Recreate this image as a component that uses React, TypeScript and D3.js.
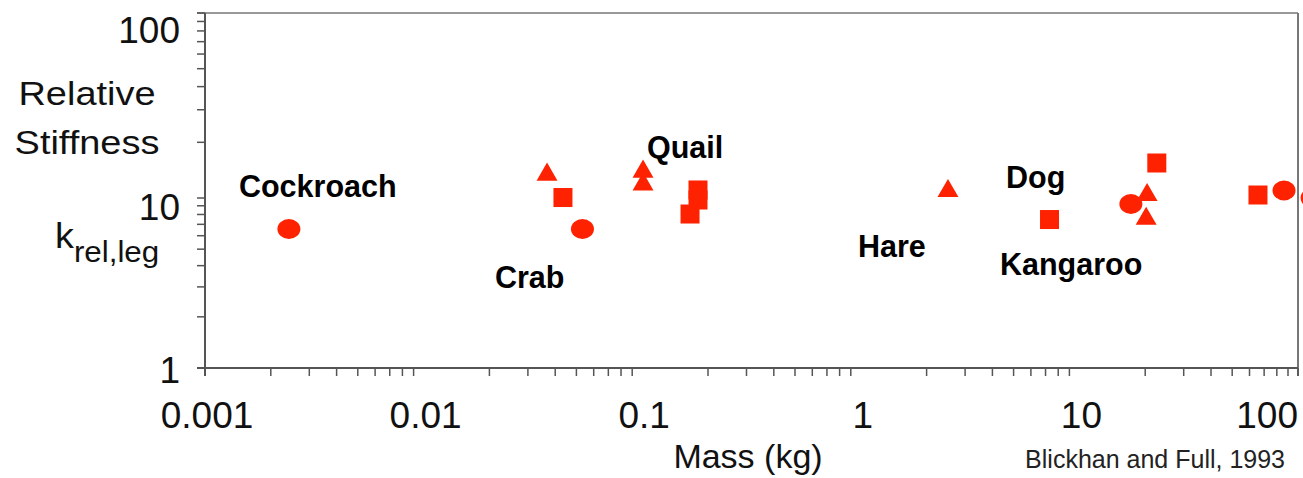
import React from "react";
import * as d3 from "d3";

// ---- data ----
const xTickValues = [0.001, 0.01, 0.1, 1, 10, 100];
const xTickLabels = ["0.001", "0.01", "0.1", "1", "10", "100"];
const yTickValues = [1, 10, 100];
const yTickLabels = ["1", "10", "100"];

const circleMass = [0.00242, 0.0533, 17.2, 86.3, 116];
const circleStiff = [6.57, 6.57, 9.22, 10.98, 10.0];
const squareMass = [0.0434, 0.18, 0.18, 0.1655, 7.3, 22.6, 65.6];
const squareStiff = [10.06, 11.05, 9.73, 8.05, 7.47, 15.46, 10.38];
const triangleMass = [0.0367, 0.1009, 0.1009, 2.505, 20.4, 20.2];
const triangleStiff = [13.37, 13.87, 11.85, 10.91, 10.38, 7.55];

const animalNames = ["Cockroach", "Crab", "Quail", "Hare", "Dog", "Kangaroo"];
const animalLabelMass = [0.00143, 0.0212, 0.1052, 0.971, 4.62, 4.33];
const animalLabelStiff = [10.12, 2.955, 16.45, 4.5, 11.33, 3.52];

const xTitle = "Mass (kg)";
const yTitleLines = ["Relative", "Stiffness"];
const citation = "Blickhan and Full, 1993";

const W = 1303;
const H = 478;
const FONT = "'Liberation Sans', Arial, sans-serif";
const RED = "#ff2200";
const AXIS = "#555";

export default function App() {
  const x = d3.scaleLog().domain([0.001, 100]).range([205, 1298]);
  const y = d3.scaleLog().domain([1, 10, 100]).range([368, 198, 13]);
  const [x0, x1] = x.range();
  const y0 = y(1);
  const yTop = y(100);

  const xMinor = x.ticks().filter(
    (v) => ![0.01, 0.1, 1, 10].some((p) => Math.abs(v - p) / p < 1e-6)
  );
  const yMinor = d3.scaleLog().domain([1, 100]).ticks();

  const tri = d3.symbol(d3.symbolTriangle, 190)();
  const sq = 19;

  const yLabelBase = d3.scaleLinear().domain([13, 368]).range([43, 383]);

  return (
    <svg
      width={W}
      height={H}
      style={{ position: "absolute", left: 0, top: 0, background: "#fff" }}
      fontFamily={FONT}
    >
      <rect x={0} y={0} width={W} height={H} fill="#fff" />
      {/* frame */}
      <line x1={x0 - 8} x2={x1} y1={yTop} y2={yTop} stroke="#999" strokeWidth={2} />
      <line x1={x1} x2={x1} y1={yTop} y2={y0 + 8} stroke="#777" strokeWidth={2} />
      <line x1={x0} x2={x0} y1={yTop} y2={y0 + 8} stroke={AXIS} strokeWidth={2} />
      <line x1={x0 - 8} x2={x1} y1={y0} y2={y0} stroke={AXIS} strokeWidth={2} />
      {/* x minor ticks */}
      {xMinor.map((v, i) => (
        <line key={"xt" + i} x1={x(v)} x2={x(v)} y1={y0} y2={y0 + 8} stroke={AXIS} strokeWidth={1.5} />
      ))}
      {/* y ticks */}
      {yMinor.map((v, i) => (
        <line key={"yt" + i} x1={x0 - 8} x2={x0} y1={y(v)} y2={y(v)} stroke={AXIS} strokeWidth={1.5} />
      ))}
      {/* x tick labels */}
      {xTickValues.map((v, i) => {
        const last = i === xTickValues.length - 1;
        return (
          <text
            key={"xl" + i}
            x={last ? x(v) : x(v) + 2}
            y={428}
            fontSize={37}
            textAnchor={last ? "end" : "middle"}
            fill="#111"
          >
            {xTickLabels[i]}
          </text>
        );
      })}
      {/* y tick labels */}
      {yTickValues.map((v, i) => (
        <text key={"yl" + i} x={180} y={yLabelBase(y(v))} fontSize={37} textAnchor="end" fill="#111">
          {yTickLabels[i]}
        </text>
      ))}
      {/* y title */}
      {yTitleLines.map((s, i) => (
        <g key={"yti" + i} transform={`translate(87,${105 + i * 49}) scale(1.15,1)`}>
          <text x={0} y={0} fontSize={33} textAnchor="middle" fill="#111">
            {s}
          </text>
        </g>
      ))}
      <g transform="translate(55,248) scale(1.08,1)">
        <text x={0} y={0} fontSize={35} fill="#111">
          k
          <tspan dy={14} fontSize={29}>
            rel,leg
          </tspan>
        </text>
      </g>
      {/* x title */}
      <text x={748} y={468} fontSize={34} textAnchor="middle" fill="#111">
        {xTitle}
      </text>
      <text x={1285} y={468} fontSize={25} textAnchor="end" fill="#222">
        {citation}
      </text>
      {/* animal labels */}
      {animalNames.map((n, i) => (
        <text
          key={"an" + i}
          x={x(animalLabelMass[i])}
          y={y(animalLabelStiff[i])}
          fontSize={30.5}
          fontWeight="bold"
          fill="#000"
        >
          {n}
        </text>
      ))}
      {/* markers */}
      {circleMass.map((m, i) => (
        <ellipse key={"c" + i} cx={x(m)} cy={y(circleStiff[i])} rx={11.5} ry={10} fill={RED} />
      ))}
      {squareMass.map((m, i) => (
        <rect
          key={"s" + i}
          x={x(m) - sq / 2}
          y={y(squareStiff[i]) - sq / 2}
          width={sq}
          height={sq}
          fill={RED}
        />
      ))}
      {triangleMass.map((m, i) => (
        <path
          key={"t" + i}
          d={tri || ""}
          transform={`translate(${x(m)},${y(triangleStiff[i])})`}
          fill={RED}
        />
      ))}
    </svg>
  );
}
